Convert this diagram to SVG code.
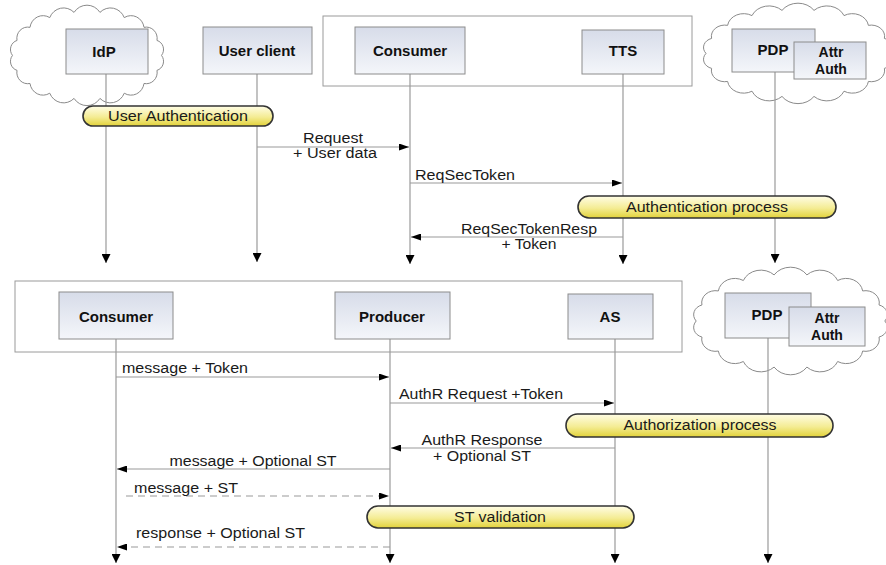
<svg xmlns="http://www.w3.org/2000/svg" xmlns:xlink="http://www.w3.org/1999/xlink" width="886" height="565" viewBox="0 0 886 565">
<style>
.frame{fill:#fff;stroke:#9a9a9a;stroke-width:1}
.box{fill:url(#boxg);stroke:#8c8c8c;stroke-width:1}
.pill{fill:url(#pillg);stroke:#333;stroke-width:1.6}
.life{stroke:#9a9a9a;stroke-width:1.2;fill:none;marker-end:url(#endA)}
.msg{stroke:#9a9a9a;stroke-width:1.2;fill:none;marker-end:url(#msgA)}
.dash{stroke-dasharray:7,5}
.nl{font-family:"Liberation Sans",Arial,sans-serif;font-weight:bold;font-size:15px;fill:#111;text-anchor:middle}
.nls{font-size:14px}
.ml{font-family:"Liberation Sans",Arial,sans-serif;font-size:14px;fill:#1a1a1a}
.mid{text-anchor:middle}
.cloud{fill:#fff;stroke:#8a8a8a;stroke-width:1}
</style>
<defs>
<linearGradient id="boxg" x1="0" y1="0" x2="0" y2="1">
<stop offset="0" stop-color="#d7dce9"/>
<stop offset="1" stop-color="#f4f6fa"/>
</linearGradient>
<linearGradient id="pillg" x1="0" y1="0" x2="0" y2="1">
<stop offset="0" stop-color="#fffde6"/>
<stop offset="0.55" stop-color="#f4ec94"/>
<stop offset="1" stop-color="#e2d23a"/>
</linearGradient>
<marker id="msgA" markerUnits="userSpaceOnUse" viewBox="0 0 10 7" refX="10" refY="3.5" markerWidth="11" markerHeight="7" orient="auto">
<path d="M0,0 L10,3.5 L0,7 Z" fill="#000"/>
</marker>
<marker id="endA" markerUnits="userSpaceOnUse" viewBox="0 0 10 10" refX="10" refY="5" markerWidth="10" markerHeight="9" orient="auto">
<path d="M0,0 L10,5 L0,10 Z" fill="#000"/>
</marker>
<path id="cloudP" vector-effect="non-scaling-stroke" d="M96,30 A5.6,5.6 0 0 1 93.2,38.9 A6.7,6.7 0 0 1 85.2,46.7 A8.1,8.1 0 0 1 73,52.5 A9.2,9.2 0 0 1 58,55.6 A9.6,9.6 0 0 1 42,55.6 A9.2,9.2 0 0 1 27,52.5 A8.1,8.1 0 0 1 14.8,46.7 A6.7,6.7 0 0 1 6.8,38.9 A5.6,5.6 0 0 1 4,30 A5.6,5.6 0 0 1 6.8,21.1 A6.7,6.7 0 0 1 14.8,13.3 A8.1,8.1 0 0 1 27,7.5 A9.2,9.2 0 0 1 42,4.4 A9.6,9.6 0 0 1 58,4.4 A9.2,9.2 0 0 1 73,7.5 A8.1,8.1 0 0 1 85.2,13.3 A6.7,6.7 0 0 1 93.2,21.1 A5.6,5.6 0 0 1 96,30 Z"/>
</defs>
<rect width="886" height="565" fill="#fff"/>

<g id="clouds">
<use xlink:href="#cloudP" href="#cloudP" class="cloud" transform="translate(6,5) scale(1.62,1.68)"/>
<use xlink:href="#cloudP" href="#cloudP" class="cloud" transform="translate(698,3) scale(2.0,1.68)"/>
<use xlink:href="#cloudP" href="#cloudP" class="cloud" transform="translate(688,267) scale(2.05,1.8)"/>
</g>

<g id="frames">
<rect id="frame-top" class="frame" x="323" y="16" width="369" height="70"/>
<rect id="frame-bottom" class="frame" x="15" y="281" width="667" height="71"/>
</g>

<g id="connectors">
<line class="life" x1="106" y1="74" x2="106" y2="263"/>
<line class="life" x1="257" y1="74" x2="257" y2="262"/>
<line class="life" x1="410" y1="74" x2="410" y2="264"/>
<line class="life" x1="623" y1="74" x2="623" y2="264"/>
<line class="life" x1="775" y1="72" x2="775" y2="263"/>
<line class="life" x1="116" y1="339" x2="116" y2="563"/>
<line class="life" x1="390" y1="339" x2="390" y2="563"/>
<line class="life" x1="615" y1="339" x2="615" y2="563"/>
<line class="life" x1="768" y1="338" x2="768" y2="563"/>

<line class="msg" x1="257" y1="147" x2="409" y2="147"/>
<line class="msg" x1="410" y1="183" x2="622" y2="183"/>
<line class="msg" x1="623" y1="237" x2="411" y2="237"/>
<line class="msg" x1="116" y1="377" x2="389" y2="377"/>
<line class="msg" x1="390" y1="403" x2="614" y2="403"/>
<line class="msg" x1="615" y1="448" x2="391" y2="448"/>
<line class="msg" x1="390" y1="469" x2="117" y2="469"/>
<line class="msg dash" x1="126" y1="496" x2="389" y2="496"/>
<line class="msg dash" x1="390" y1="547" x2="117" y2="547"/>
</g>

<g id="node-idp"><rect class="box" x="66" y="29" width="82" height="45"/><text class="nl" x="104" y="57">IdP</text></g>
<g id="node-userclient"><rect class="box" x="203" y="27" width="109" height="47"/><text class="nl" x="257" y="56">User client</text></g>
<g id="node-consumer-top"><rect class="box" x="355" y="27" width="110" height="47"/><text class="nl" x="410" y="56">Consumer</text></g>
<g id="node-tts"><rect class="box" x="582" y="30" width="82" height="44"/><text class="nl" x="623" y="56">TTS</text></g>
<g id="node-pdp-top"><rect class="box" x="732" y="29" width="83" height="43"/><text class="nl" x="773" y="55">PDP</text></g>
<g id="node-attrauth-top"><rect class="box" x="794" y="42" width="72" height="37"/><text class="nl nls" x="831" y="57">Attr</text><text class="nl nls" x="831" y="74">Auth</text></g>

<g id="node-consumer-bottom"><rect class="box" x="59" y="292" width="114" height="47"/><text class="nl" x="116" y="322">Consumer</text></g>
<g id="node-producer"><rect class="box" x="335" y="292" width="115" height="47"/><text class="nl" x="392" y="322">Producer</text></g>
<g id="node-as"><rect class="box" x="568" y="294" width="85" height="45"/><text class="nl" x="610" y="322">AS</text></g>
<g id="node-pdp-bottom"><rect class="box" x="725" y="293" width="86" height="45"/><text class="nl" x="767" y="320">PDP</text></g>
<g id="node-attrauth-bottom"><rect class="box" x="789" y="307" width="76" height="39"/><text class="nl nls" x="827" y="323">Attr</text><text class="nl nls" x="827" y="340">Auth</text></g>

<g id="node-userauth"><rect class="pill" x="83" y="106" width="190" height="20" rx="10"/><text class="ml mid" x="178" y="121" textLength="140" lengthAdjust="spacingAndGlyphs">User Authentication</text></g>
<g id="node-authproc"><rect class="pill" x="578" y="196" width="258" height="22" rx="11"/><text class="ml mid" x="707" y="212" textLength="162" lengthAdjust="spacingAndGlyphs">Authentication process</text></g>
<g id="node-authzproc"><rect class="pill" x="566" y="414" width="267" height="23" rx="11.5"/><text class="ml mid" x="700" y="430" textLength="153" lengthAdjust="spacingAndGlyphs">Authorization process</text></g>
<g id="node-stval"><rect class="pill" x="367" y="506" width="267" height="22" rx="11"/><text class="ml mid" x="500" y="522" textLength="92" lengthAdjust="spacingAndGlyphs">ST validation</text></g>

<g id="labels">
<text class="ml mid" x="333" y="143" textLength="60" lengthAdjust="spacingAndGlyphs">Request</text>
<text class="ml mid" x="335" y="158" textLength="84" lengthAdjust="spacingAndGlyphs">+ User data</text>
<text class="ml" x="415" y="180" textLength="100" lengthAdjust="spacingAndGlyphs">ReqSecToken</text>
<text class="ml mid" x="529" y="234" textLength="136" lengthAdjust="spacingAndGlyphs">ReqSecTokenResp</text>
<text class="ml mid" x="529" y="249" textLength="55" lengthAdjust="spacingAndGlyphs">+ Token</text>
<text class="ml" x="122" y="373" textLength="126" lengthAdjust="spacingAndGlyphs">message + Token</text>
<text class="ml" x="399" y="399" textLength="164" lengthAdjust="spacingAndGlyphs">AuthR Request +Token</text>
<text class="ml mid" x="482" y="445" textLength="121" lengthAdjust="spacingAndGlyphs">AuthR Response</text>
<text class="ml mid" x="482" y="461" textLength="98" lengthAdjust="spacingAndGlyphs">+ Optional ST</text>
<text class="ml mid" x="253" y="466" textLength="167" lengthAdjust="spacingAndGlyphs">message + Optional ST</text>
<text class="ml" x="134" y="493" textLength="104" lengthAdjust="spacingAndGlyphs">message + ST</text>
<text class="ml" x="136" y="538" textLength="169" lengthAdjust="spacingAndGlyphs">response + Optional ST</text>
</g>
</svg>
